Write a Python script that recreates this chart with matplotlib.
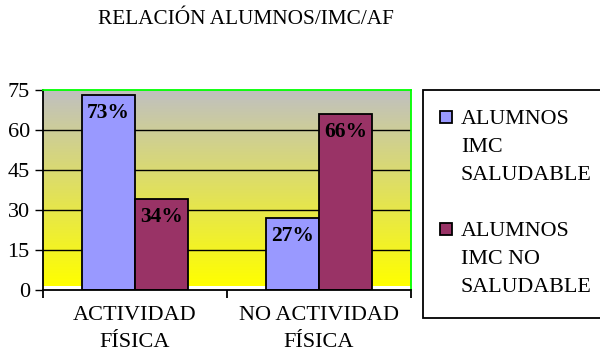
import matplotlib.pyplot as plt
import numpy as np
from matplotlib.colors import LinearSegmentedColormap
from matplotlib.patches import Rectangle

plt.rcParams["font.family"] = ["Liberation Serif", "DejaVu Serif"]

# Data
categories = ["ACTIVIDAD\nFÍSICA", "NO ACTIVIDAD\nFÍSICA"]
series_names = ["ALUMNOS\nIMC\nSALUDABLE", "ALUMNOS\nIMC NO\nSALUDABLE"]
saludable = [73, 27]
no_saludable = [34, 66]
yticks = [0, 15, 30, 45, 60, 75]

colors = ["#9999FF", "#993366"]

fig = plt.figure(figsize=(6.0, 3.59), dpi=100)
ax = fig.add_axes([43 / 600, 1 - 290 / 359, 368 / 600, 200 / 359])

x = np.arange(len(categories))
width = 0.288

# background gradient gray -> yellow
cmap = LinearSegmentedColormap.from_list("bg", ["#FFFF00", "#C0C0C0"])
grad = np.linspace(0, 1, 256).reshape(-1, 1)
ax.imshow(grad, cmap=cmap, origin="lower", aspect="auto",
          extent=[-0.5, 1.5, 1.5, 75], zorder=0)

for yv in yticks[1:-1]:
    ax.axhline(yv, color="black", lw=1.0, zorder=1)

for i, vals in enumerate([saludable, no_saludable]):
    bars = ax.bar(x + (i - 0.5) * width, vals, width, color=colors[i],
                  edgecolor="black", linewidth=1.3, zorder=2)
    for b, v in zip(bars, vals):
        ax.annotate(f"{v}%", (b.get_x() + b.get_width() / 2, v),
                    xytext=(0, -16.5), textcoords="offset points",
                    ha="center", va="baseline", fontsize=15.5,
                    fontweight="bold", zorder=3)

ax.set_xlim(-0.5, 1.5)
ax.set_ylim(0, 75)
ax.set_yticks(yticks)
ax.tick_params(axis="y", length=5.5, width=1.0, pad=4, labelsize=16)

ax.set_xticks(x)
ax.set_xticklabels(categories, fontsize=16, linespacing=1.6)
ax.tick_params(axis="x", which="major", length=0, pad=11.5)
ax.set_xticks([-0.5, 0.5, 1.5], minor=True)
ax.tick_params(axis="x", which="minor", length=5.5, width=1.3)

for side in ["top", "right"]:
    ax.spines[side].set_color("#00FF00")
    ax.spines[side].set_linewidth(1.3)
for side in ["left", "bottom"]:
    ax.spines[side].set_color("black")
    ax.spines[side].set_linewidth(1.3)

fig.text(245.5 / 600, 1 - 20 / 359, "RELACIÓN ALUMNOS/IMC/AF",
         ha="center", va="center", fontsize=15.3)

# legend box
fig.add_artist(Rectangle((423 / 600, 1 - 318 / 359), 200 / 600, 228 / 359,
                         transform=fig.transFigure, facecolor="white",
                         edgecolor="black", linewidth=1.3))
for i, name in enumerate(series_names):
    top = 111 + i * 112
    fig.add_artist(Rectangle((440 / 600, 1 - (top + 12) / 359), 12 / 600, 12 / 359,
                             transform=fig.transFigure, facecolor=colors[i],
                             edgecolor="black", linewidth=1.3))
    fig.text(461 / 600, 1 - (top - 1) / 359, name, ha="left", va="top",
             fontsize=15.8, linespacing=1.66)

fig.savefig("out.png", dpi=100)
